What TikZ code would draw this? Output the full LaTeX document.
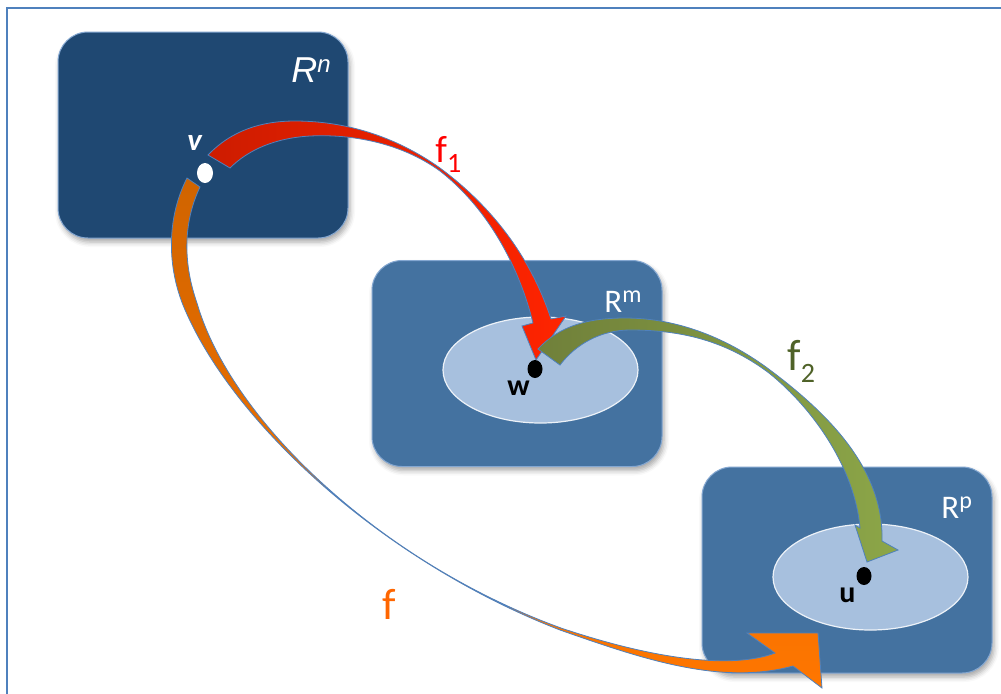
\documentclass[tikz,border=0pt]{standalone}
\usepackage{fontspec}
\setmainfont{Carlito}
\newfontfamily\arialfont{Liberation Sans}
\usetikzlibrary{shapes.geometric,shadows.blur}
\definecolor{navy}{RGB}{31,72,114}
\definecolor{steel}{RGB}{68,114,160}
\definecolor{pale}{RGB}{167,192,222}
\definecolor{rim}{RGB}{79,129,189}
\definecolor{olive}{RGB}{79,98,40}
\definecolor{tangerine}{RGB}{255,102,0}
\definecolor{redtail}{RGB}{205,28,0}
\definecolor{redhead}{RGB}{255,36,0}
\definecolor{greentail}{RGB}{112,128,58}
\definecolor{greenhead}{RGB}{140,166,72}
\definecolor{orangetail}{RGB}{208,100,0}
\definecolor{orangehead}{RGB}{255,118,0}
\newcommand{\pw}[1]{\raisebox{5pt}{\fontsize{12}{12}\selectfont #1}}
\newcommand{\idx}[2]{\raisebox{-#1}{\fontsize{14}{14}\selectfont #2}}

\begin{document}
\begin{tikzpicture}[x=0.5pt,y=-0.5pt,
  box/.style={rectangle,rounded corners=15pt,draw=rim!70!white,line width=0.5pt,
    minimum width=145pt,minimum height=103pt,
    blur shadow={shadow xshift=1pt,shadow yshift=-2pt,shadow blur radius=2.5pt,shadow opacity=35}},
  disc/.style={ellipse,fill=pale,draw=white!80!pale,line width=0.6pt,minimum width=97.5pt,minimum height=53pt},
  dot/.style={ellipse,inner sep=0pt,minimum width=7.5pt,minimum height=9pt,fill=black},
  arr/.style={draw=rim,line width=0.4pt},
  lab/.style={anchor=base west,inner sep=0pt}]
\useasboundingbox (0,0) rectangle (1001,693);
\draw[rim,line width=1pt] (7,8) rectangle (1012,702);

\node[box,fill=navy] (Rn) at (203,135) {};
\node[box,fill=steel] (Rm) at (517,363.5) {};
\node[box,fill=steel] (Rp) at (847,570) {};
\node[disc] (Em) at (540.5,370) {};
\node[disc] (Ep) at (870.5,577) {};

\shadedraw[arr,top color=orangetail,bottom color=orangehead]
  (187,178) .. controls (168,215) and (166,262) .. (183,305)
  .. controls (230,420) and (380,560) .. (560,630)
  .. controls (640,658) and (720,686) .. (793,666)
  -- (822,688) -- (818,633) -- (747,633) -- (775,653)
  .. controls (730,670) and (650,658) .. (561,628)
  .. controls (382,563) and (231,421) .. (197,303)
  .. controls (184,266) and (182,225) .. (200,187) -- cycle;
\shadedraw[arr,left color=redtail,right color=redhead]
  (208,155) .. controls (232,130) and (262,121) .. (295,121)
  .. controls (345,121) and (395,136) .. (440,168)
  .. controls (490,205) and (530,255) .. (551,319)
  -- (566,316) -- (536,360) -- (522,326) -- (533,323)
  .. controls (520,270) and (490,210) .. (440,171)
  .. controls (400,142) and (350,134) .. (310,136)
  .. controls (275,138) and (248,150) .. (230,168) -- cycle;
\shadedraw[arr,left color=greentail,right color=greenhead]
  (538,349) .. controls (560,325) and (590,318) .. (625,318)
  .. controls (680,318) and (730,340) .. (770,370)
  .. controls (830,415) and (884,470) .. (882,541)
  -- (898,550) -- (867,562) -- (855,525) -- (860,528)
  .. controls (855,470) and (815,410) .. (769,373)
  .. controls (725,340) and (680,330) .. (630,330)
  .. controls (600,330) and (575,345) .. (560,365) -- cycle;

\node[dot,fill=white,minimum width=8pt,minimum height=10pt] (v) at (205,173) {};
\node[dot] (w) at (535,369) {};
\node[dot] (u) at (864,576) {};

\node[lab,text=white,font=\arialfont\itshape\fontsize{18}{18}\selectfont] (tn) at (291,82) {R\pw{n}};
\node[lab,text=white,font=\fontsize{16.5}{16.5}\selectfont] (tm) at (604,312) {R\pw{m}};
\node[lab,text=white,font=\fontsize{16.5}{16.5}\selectfont] (tp) at (941,518) {R\pw{p}};
\node[lab,text=white,font=\bfseries\itshape\fontsize{15.5}{15.5}\selectfont] (tv) at (187,150) {v};
\node[lab,font=\bfseries\fontsize{15}{15}\selectfont] (tw) at (507,395) {w};
\node[lab,font=\bfseries\fontsize{15}{15}\selectfont] (tu) at (839,602) {u};
\node[lab,text=red,font=\fontsize{19}{19}\selectfont] (tf1) at (435,162) {f\idx{5pt}{1}};
\node[lab,text=olive,font=\fontsize{22}{22}\selectfont] (tf2) at (787,370) {f\idx{6pt}{2}};
\node[lab,text=tangerine,font=\fontsize{22}{22}\selectfont] (tf) at (382,619) {f};
\end{tikzpicture}
\end{document}
